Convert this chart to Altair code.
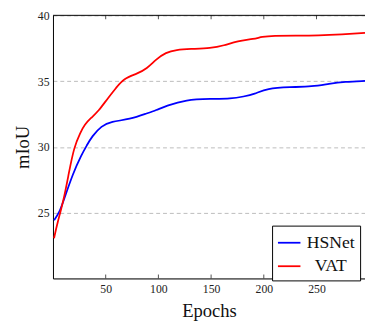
import altair as alt
import pandas as pd

# ---- data ----
hsnet_epochs = [1, 6, 10, 19, 27, 32, 37, 46, 55, 73, 89, 98, 107, 126, 150, 169, 181, 191, 203, 225, 246, 262, 277, 296]
hsnet_miou = [24.43, 25.0, 25.9, 28.0, 29.4, 30.1, 30.8, 31.6, 31.92, 32.1, 32.55, 32.8, 33.1, 33.6, 33.65, 33.66, 33.83, 34.0, 34.45, 34.55, 34.58, 34.8, 34.95, 35.02]

vat_epochs = [1, 4, 10, 15, 20, 26, 30, 36, 43, 52, 60, 67, 80, 89, 98, 107, 117, 130, 150, 162, 175, 191, 198, 209, 230, 252, 274, 296]
vat_miou = [23.06, 24.17, 25.9, 28.0, 30.0, 31.1, 31.7, 32.2, 32.7, 33.7, 34.5, 35.2, 35.57, 35.94, 36.67, 37.18, 37.38, 37.45, 37.5, 37.7, 38.05, 38.2, 38.37, 38.46, 38.46, 38.46, 38.54, 38.66]

series_names = ["HSNet", "VAT"]
series_colors = ["#0000ff", "#ff0000"]
x_ticks = [50, 100, 150, 200, 250]
y_ticks = [25, 30, 35, 40]
x_domain = [0, 296]
y_domain = [20, 40]

df = pd.concat([
    pd.DataFrame({"epoch": hsnet_epochs, "miou": hsnet_miou, "model": "HSNet"}),
    pd.DataFrame({"epoch": vat_epochs, "miou": vat_miou, "model": "VAT"}),
])
tick_df = pd.DataFrame({"epoch": x_ticks})
one = pd.DataFrame({"a": [0]})

W, H = 319, 269
FONT = "Liberation Serif"
xscale = alt.Scale(domain=x_domain, nice=False, zero=False)
yscale = alt.Scale(domain=y_domain, nice=False, zero=False)

x_axis = alt.Axis(values=x_ticks, title="Epochs", grid=False, ticks=False,
                  labelPadding=5, labelFontSize=12, labelFont=FONT, labelColor="#222",
                  titleFont=FONT, titleFontSize=19, titleFontWeight="normal",
                  titleColor="#111", titlePadding=8,
                  domainColor="black", domainWidth=1)

lines = alt.Chart(df).mark_line(interpolate="basis", strokeWidth=1.8, clip=True).encode(
    x=alt.X("epoch:Q", scale=xscale, axis=x_axis),
    y=alt.Y("miou:Q", scale=yscale,
            axis=alt.Axis(values=y_ticks, title="mIoU", grid=True, gridDash=[4, 3],
                          gridColor="#bbbbbb", gridWidth=1, ticks=False,
                          labelPadding=4, labelFontSize=12, labelFont=FONT, labelColor="#222",
                          titleFont=FONT, titleFontSize=19, titleFontWeight="normal",
                          titleColor="#111", titlePadding=5,
                          domainColor="black", domainWidth=1)),
    color=alt.Color("model:N",
                    scale=alt.Scale(domain=series_names, range=series_colors),
                    legend=alt.Legend(title=None, orient="none", legendX=224, legendY=215,
                                      symbolType="stroke", symbolSize=529, symbolStrokeWidth=1.8,
                                      labelFont=FONT, labelFontSize=18, labelColor="#111",
                                      labelAlign="center", labelOffset=30,
                                      strokeColor="black", fillColor="white", padding=5,
                                      cornerRadius=0, rowPadding=2)),
)

bottom_ticks = alt.Chart(tick_df).mark_rule(color="#222", strokeWidth=0.8).encode(
    x=alt.X("epoch:Q", scale=xscale, axis=x_axis), y=alt.value(H), y2=alt.value(H - 4))
top_ticks = alt.Chart(tick_df).mark_rule(color="#222", strokeWidth=0.8).encode(
    x=alt.X("epoch:Q", scale=xscale, axis=x_axis), y=alt.value(0), y2=alt.value(4))
top_border = alt.Chart(one).mark_rule(color="black", strokeWidth=1).encode(
    x=alt.value(0), x2=alt.value(W), y=alt.value(0))

chart = alt.layer(lines, bottom_ticks, top_ticks, top_border).properties(
    width=W, height=H,
    autosize=alt.AutoSizeParams(type="none"),
    padding={"left": 46, "top": 4, "right": 0, "bottom": 40},
).configure_view(stroke=None).configure(background="white")

chart.save("out.html", embed_options={"renderer": "svg", "actions": False})
